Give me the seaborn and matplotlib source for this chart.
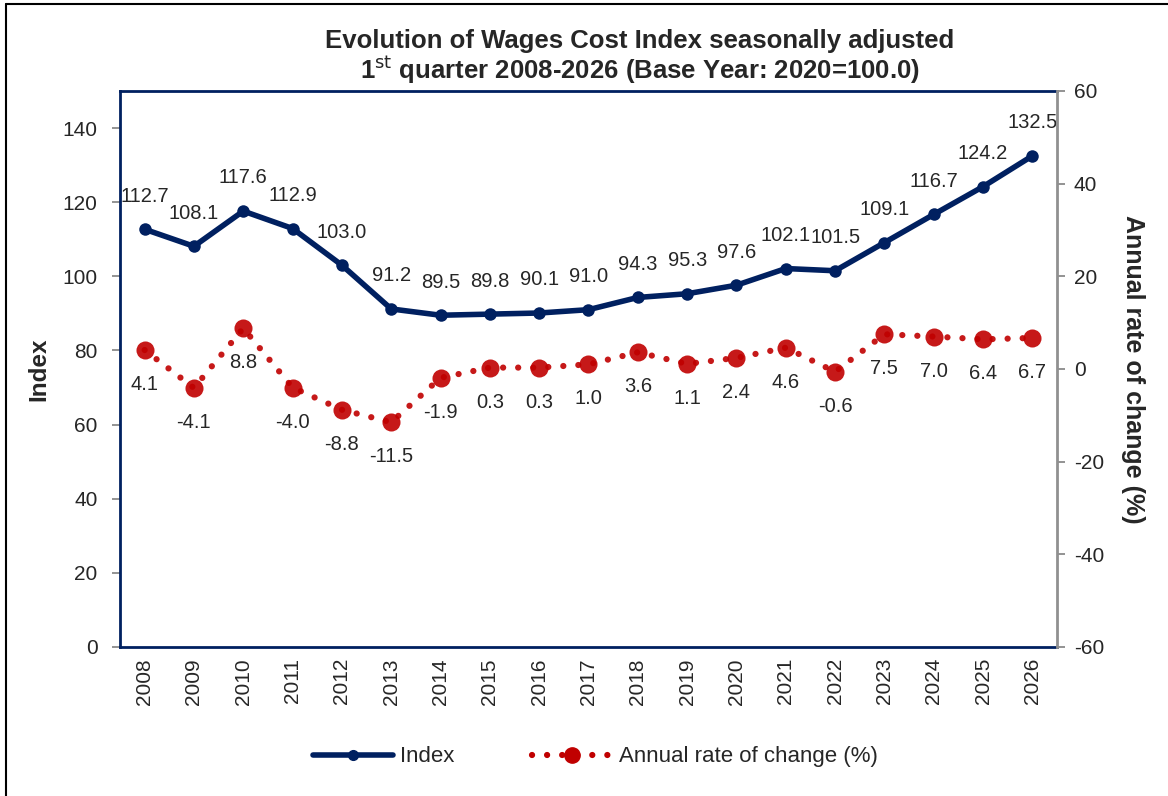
import numpy as np
import pandas as pd
import seaborn as sns
import matplotlib.pyplot as plt
from matplotlib.lines import Line2D

# Data
years = [str(y) for y in range(2008, 2027)]
index_values = [112.7, 108.1, 117.6, 112.9, 103.0, 91.2, 89.5, 89.8, 90.1, 91.0,
                94.3, 95.3, 97.6, 102.1, 101.5, 109.1, 116.7, 124.2, 132.5]
rate_values = [4.1, -4.1, 8.8, -4.0, -8.8, -11.5, -1.9, 0.3, 0.3, 1.0,
               3.6, 1.1, 2.4, 4.6, -0.6, 7.5, 7.0, 6.4, 6.7]

df = pd.DataFrame({'year': years, 'pos': np.arange(len(years)),
                   'index': index_values, 'rate': rate_values})

sns.set_style('white')
plt.rcParams['font.family'] = ['Liberation Sans', 'DejaVu Sans']
plt.rcParams['axes.unicode_minus'] = False

navy = '#002060'
red = '#C00000'
txt = '#262626'
dots = (0, (0.01, 2.4))

fig = plt.figure(figsize=(11.68, 7.96), dpi=100)
ax = fig.add_axes([0.1027, 0.1872, 0.8023, 0.6985])
ax2 = ax.twinx()

# Index line
sns.lineplot(data=df, x='pos', y='index', ax=ax, color=navy, linewidth=4,
             marker='o', markersize=9, markeredgewidth=0, legend=False)
# Annual rate of change (dotted)
sns.lineplot(data=df, x='pos', y='rate', ax=ax2, color=red, linewidth=4.5,
             linestyle=dots, marker='o', markersize=13, markeredgewidth=0,
             alpha=0.9, legend=False)
for ln in ax2.get_lines():
    ln.set_dash_capstyle('round')

ax.set_xlim(-0.5, len(years) - 0.5)
ax.set_ylim(0, 150)
ax2.set_ylim(-60, 60)

# data labels
for i, v in enumerate(index_values):
    ax.annotate(f'{v:.1f}', (i, v), xytext=(0, 17), textcoords='offset points',
                ha='center', va='bottom', fontsize=14.5, color=txt)
for i, v in enumerate(rate_values):
    ax2.annotate(f'{v:.1f}', (i, v), xytext=(0, -18), textcoords='offset points',
                 ha='center', va='top', fontsize=14.5, color=txt)

# x axis: tick marks between categories, labels at centers
ax.set_xticks(np.arange(-0.5, len(years), 1))
ax.set_xticklabels([])
ax.set_xticks(np.arange(len(years)), minor=True)
ax.set_xticklabels(years, minor=True, rotation=90, fontsize=15, color=txt)
ax.tick_params(axis='x', which='major', length=6, width=1.2, color='#404040', direction='out')
ax.tick_params(axis='x', which='minor', length=0, pad=8)
ax.set_xlabel('')

ax.set_yticks(np.arange(0, 141, 20))
ax.tick_params(axis='y', length=6, width=1.2, color='#808080', direction='out',
               labelsize=15, labelcolor=txt, pad=10, left=True)
ax2.set_yticks(np.arange(-60, 61, 20))
ax2.tick_params(axis='y', length=6, width=1.2, color='#808080', direction='out',
                labelsize=15, labelcolor=txt, pad=6, right=True)

ax.set_ylabel('Index', fontsize=17.5, fontweight='bold', labelpad=9)
ax2.set_ylabel('Annual rate of change (%)', fontsize=18, fontweight='bold',
               rotation=-90, labelpad=12, va='bottom')

for sp in ['left', 'top', 'bottom']:
    ax.spines[sp].set_color(navy)
    ax.spines[sp].set_linewidth(2)
    ax2.spines[sp].set_visible(False)
ax.spines['right'].set_visible(False)
ax2.spines['right'].set_color('#909090')
ax2.spines['right'].set_linewidth(2)

# title
fig.text(0.548, 0.949, 'Evolution of Wages Cost Index seasonally adjusted',
         ha='center', va='center', fontsize=18.5, fontweight='bold')
fig.text(0.548, 0.912, r'1$^{\mathrm{st}}$ quarter 2008-2026 (Base Year: 2020=100.0)',
         ha='center', va='center', fontsize=18.5, fontweight='bold')

# legend
handles = [Line2D([], [], color=navy, linewidth=4, marker='o', markersize=7),
           Line2D([], [], color=red, linewidth=4.5, linestyle=dots,
                  dash_capstyle='round', marker='o', markersize=11)]
fig.legend(handles, ['Index', 'Annual rate of change (%)'], loc='center',
           bbox_to_anchor=(0.51, 0.049), ncol=2, frameon=False, fontsize=16,
           handlelength=3.6, columnspacing=3.5, handletextpad=0.3)

# outer border (left and top)
fig.add_artist(Line2D([0.0055, 0.0055], [0, 0.995], color='black', linewidth=1.5,
                      transform=fig.transFigure))
fig.add_artist(Line2D([0.0055, 1], [0.995, 0.995], color='black', linewidth=1.5,
                      transform=fig.transFigure))

fig.savefig('out.png', dpi=100)
